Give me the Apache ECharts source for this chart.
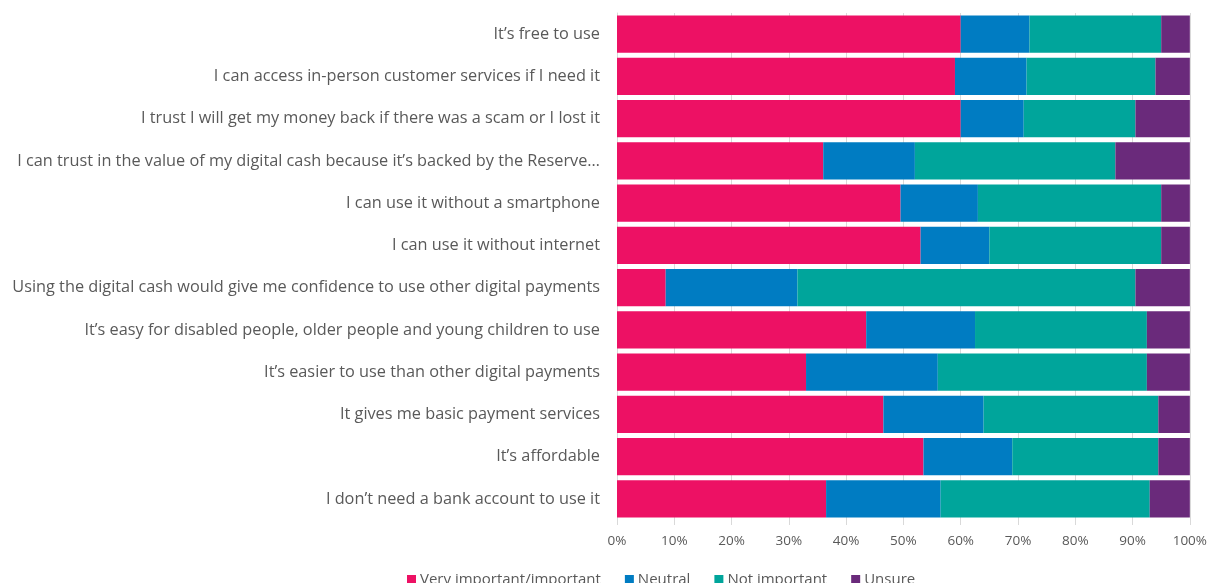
<!DOCTYPE html>
<html>
<head>
<meta charset="utf-8">
<script src="https://cdn.jsdelivr.net/npm/echarts@6/dist/echarts.min.js"></script>
<style>
html, body { margin: 0; padding: 0; background: #fff; }
#chart { width: 1210px; height: 583px; }
</style>
</head>
<body>
<div id="chart"></div>
<script>
// statements, top to bottom
var categories = [
	'It\u2019s free to use',
	'I can access in-person customer services if I need it',
	'I trust I will get my money back if there was a scam or I lost it',
	'I can trust in the value of my digital cash because it\u2019s backed by the Reserve\u2026',
	'I can use it without a smartphone',
	'I can use it without internet',
	'Using the digital cash would give me confidence to use other digital payments',
	'It\u2019s easy for disabled people, older people and young children to use',
	'It\u2019s easier to use than other digital payments',
	'It gives me basic payment services',
	'It\u2019s affordable',
	'I don\u2019t need a bank account to use it'
];
var seriesNames = ['Very important/important', 'Neutral', 'Not important', 'Unsure'];

// percentages
var important    = [60, 59, 60, 36, 49.5, 53, 8.5, 43.5, 33, 46.5, 53.5, 36.5];
var neutral      = [12, 12.5, 11, 16, 13.5, 12, 23, 19, 23, 17.5, 15.5, 20];
var notImportant = [23, 22.5, 19.5, 35, 32, 30, 59, 30, 36.5, 30.5, 25.5, 36.5];
var unsure       = [5, 6, 9.5, 13, 5, 5, 9.5, 7.5, 7.5, 5.5, 5.5, 7];

var xTicks = [0, 10, 20, 30, 40, 50, 60, 70, 80, 90, 100];

var colors = ['#ED1164', '#007CC2', '#00A59B', '#6A2A7B'];
var font = '"Open Sans", "Noto Sans", sans-serif';

var myChart = echarts.init(document.getElementById('chart'));

function makeSeries(name, data){
	return {
		name: name,
		type: 'bar',
		stack: 'total',
		barCategoryGap: '12%',
		data: data
	};
}

var option = {
	animation: false,
	color: colors,
	textStyle: { fontFamily: font },
	grid: {
		left: 617,
		right: 16,
		top: 13,
		bottom: 63,
		containLabel: false
	},
	legend: {
		data: seriesNames,
		bottom: -9,
		left: 402,
		icon: 'rect',
		itemWidth: 9,
		itemHeight: 9,
		itemGap: 24,
		textStyle: { color: '#595959', fontSize: 15, fontFamily: font, padding: [0, 0, 0, -1] }
	},
	xAxis: {
		type: 'value',
		min: 0,
		max: 100,
		interval: 10,
		axisLine: { show: false },
		axisTick: { show: true, length: 5, lineStyle: { color: '#d9d9d9' } },
		splitLine: { show: true, lineStyle: { color: '#d9d9d9', width: 1 } },
		axisLabel: {
			color: '#595959',
			fontSize: 13.5,
			margin: 14,
			formatter: function(v){ return xTicks.indexOf(v) >= 0 ? v + '%' : ''; }
		}
	},
	yAxis: {
		type: 'category',
		inverse: true,
		data: categories,
		axisLine: { show: true, lineStyle: { color: '#d9d9d9' } },
		axisTick: { show: false },
		axisLabel: {
			color: '#595959',
			fontSize: 16.3,
			margin: 17,
			padding: [3, 0, 0, 0]
		}
	},
	series: [
		makeSeries(seriesNames[0], important),
		makeSeries(seriesNames[1], neutral),
		makeSeries(seriesNames[2], notImportant),
		makeSeries(seriesNames[3], unsure)
	]
};

myChart.setOption(option);
</script>
</body>
</html>
